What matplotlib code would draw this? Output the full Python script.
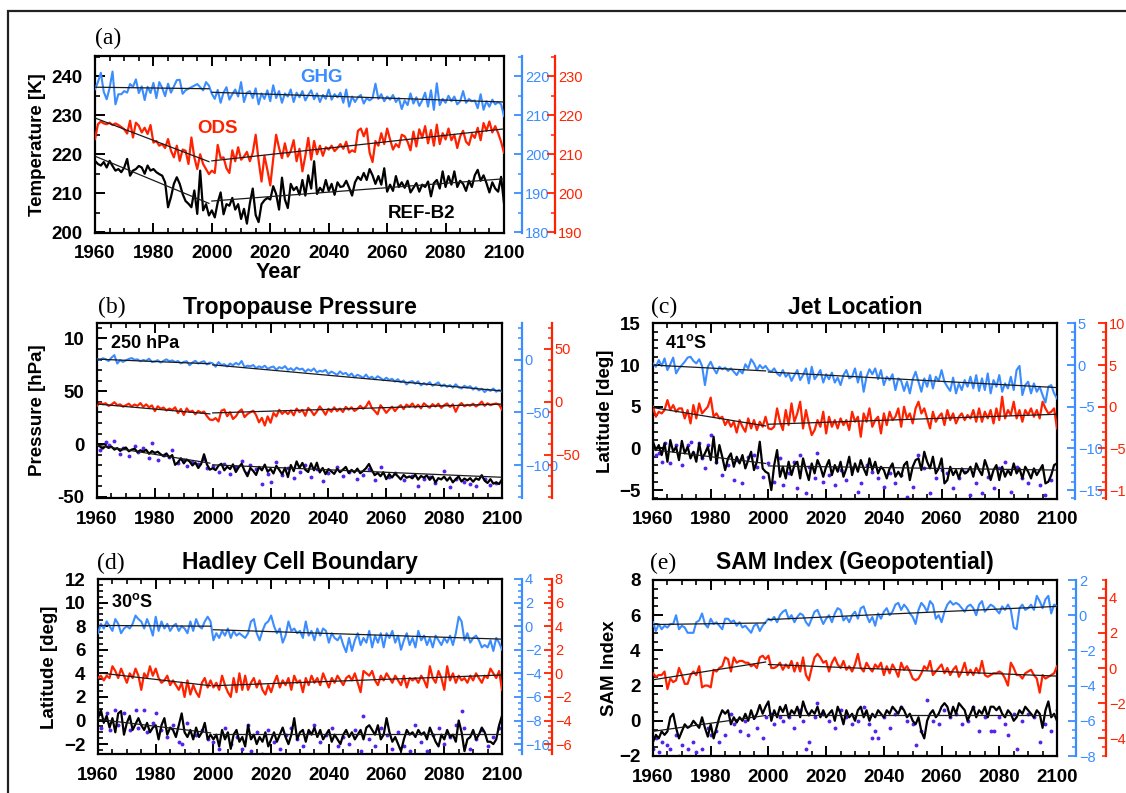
import matplotlib
matplotlib.use("Agg")
import matplotlib.pyplot as plt
from matplotlib.ticker import MultipleLocator, FixedLocator, FixedFormatter
from matplotlib.patches import Rectangle

plt.rcParams["font.family"] = ["Liberation Sans", "DejaVu Sans"]
plt.rcParams["font.weight"] = "bold"
plt.rcParams["mathtext.fontset"] = "custom"
plt.rcParams["mathtext.rm"] = "Liberation Sans:bold"
plt.rcParams["mathtext.it"] = "Liberation Sans:bold"

W, H = 1126, 793
BLUE = "#3a8cff"
RED = "#ff2200"
DOT = "#5522ee"

years = list(range(1960, 2101))

# ---------------- (a) temperature, left-axis units [K]
a_ghg = [236.7, 238.5, 240.9, 236.0, 234.1, 237.0, 241.2, 232.8, 235.4, 235.4,
         236.2, 235.8, 238.0, 237.3, 239.2, 235.7, 237.4, 233.9, 237.3, 235.7,
         238.3, 234.4, 238.5, 237.0, 234.9, 238.1, 235.8, 237.4, 239.0, 239.1,
         235.5, 236.4, 236.8, 237.2, 237.6, 238.0, 237.2, 236.4, 238.5, 237.6,
         235.5, 234.2, 236.5, 233.2, 235.8, 237.2, 234.0, 235.4, 236.6, 234.8,
         238.5, 233.4, 235.8, 236.2, 234.4, 236.9, 232.8, 235.6, 234.2, 236.4,
         233.6, 237.7, 234.4, 236.2, 233.2, 235.6, 234.8, 236.6, 233.4, 235.8,
         234.6, 236.2, 233.8, 235.2, 236.4, 234.1, 235.6, 233.4, 235.2, 234.2,
         236.6, 234.0, 235.4, 234.6, 235.8, 233.2, 236.6, 232.2, 234.8, 233.4,
         234.6, 235.2, 233.0, 234.4, 233.8, 234.4, 238.1, 234.2, 235.4, 233.6,
         234.8, 234.0, 235.2, 233.4, 234.4, 231.6, 233.8, 232.6, 235.6, 233.0,
         234.6, 232.4, 233.8, 235.8, 232.2, 236.4, 231.4, 238.2, 232.6, 234.2,
         233.2, 235.0, 233.6, 234.8, 232.8, 233.6, 236.2, 233.2, 234.2, 233.6,
         233.8, 231.8, 235.4, 231.4, 233.6, 232.2, 234.0, 232.8, 233.4, 232.8,
         229.8]
a_ods = [223.9, 227.7, 228.4, 227.9, 227.7, 228.1, 227.5, 227.9, 227.5, 227.0,
         226.4, 225.3, 228.6, 224.3, 228.1, 227.3, 225.6, 226.8, 225.2, 227.5,
         223.0, 223.4, 222.2, 222.6, 221.6, 223.9, 220.9, 219.2, 222.2, 218.3,
         221.2, 220.9, 217.5, 224.3, 219.2, 216.2, 220.0, 217.5, 216.2, 214.9,
         215.8, 215.2, 222.4, 219.0, 219.2, 216.4, 215.2, 221.0, 218.2, 221.8,
         218.6, 219.4, 220.6, 218.2, 220.4, 225.0, 218.4, 213.0, 219.6, 216.0,
         212.0, 218.8, 225.0, 221.6, 219.0, 222.8, 219.4, 220.8, 223.6, 218.2,
         221.4, 215.6, 219.6, 224.2, 218.6, 223.4, 220.0, 222.2, 219.6, 221.8,
         221.2, 222.2, 220.8, 221.6, 222.6, 221.4, 223.2, 220.4, 221.0, 220.6,
         226.0, 226.6, 224.6, 226.6, 220.4, 218.0, 223.4, 222.2, 225.4, 222.6,
         226.6, 223.8, 221.2, 222.6, 221.8, 225.0, 224.6, 223.2, 221.0, 225.8,
         222.0, 226.4, 224.2, 227.2, 222.8, 226.2, 222.2, 227.6, 222.6, 225.4,
         223.8, 226.6, 223.6, 225.0, 221.6, 224.6, 226.0, 223.2, 222.4, 225.2,
         224.2, 226.8, 223.6, 228.0, 226.0, 228.4, 225.6, 227.2, 225.4, 223.2,
         220.4]
a_ref = [218.3, 217.5, 217.1, 218.0, 216.6, 218.3, 217.0, 215.8, 216.2, 215.4,
         216.6, 218.8, 214.5, 215.8, 216.2, 217.0, 216.6, 215.0, 217.1, 215.8,
         216.2, 215.4, 214.9, 214.5, 212.8, 206.4, 209.0, 212.4, 214.1, 212.4,
         209.8, 208.0, 207.3, 206.4, 210.7, 204.7, 215.8, 205.6, 207.2, 204.3,
         205.6, 203.8, 207.6, 210.2, 204.6, 207.2, 206.8, 208.8, 205.8, 207.2,
         203.4, 206.0, 202.2, 207.4, 211.2, 204.4, 202.6, 207.2, 208.2, 208.8,
         208.4, 211.8, 209.8, 205.8, 214.0, 208.4, 206.2, 212.4, 210.8, 211.6,
         209.6, 213.4, 209.4, 214.6, 211.2, 218.2, 209.8, 211.4, 210.4, 213.4,
         210.6, 212.4, 209.6, 212.8, 211.6, 211.8, 213.2, 211.4, 209.4, 212.8,
         214.2, 213.4, 215.2, 213.4, 216.2, 214.6, 212.4, 214.4, 212.2, 216.4,
         210.4, 212.2, 210.6, 214.4, 211.6, 212.8, 211.4, 213.2, 210.2, 211.4,
         212.6, 210.4, 212.2, 211.6, 213.0, 209.2, 212.6, 213.4, 211.2, 215.6,
         211.6, 214.4, 212.2, 215.6, 211.6, 213.2, 212.4, 210.6, 213.2, 211.6,
         214.6, 216.0, 213.2, 214.6, 212.6, 210.2, 212.8, 211.2, 210.4, 214.2,
         207.4]
# trend segments: [1960, 1999] then [2000, 2100]
a_ghg_trend = [237.2, 236.8, 235.9, 233.4]
a_ods_trend = [229.3, 218.1, 218.3, 226.5]
a_ref_trend = [219.5, 207.4, 208.0, 213.7]

# ---------------- (b) tropopause pressure [hPa]
b_ghg = [80.5, 79.8, 81.2, 80.4, 78.6, 81.8, 84.2, 76.2, 79.5, 77.8,
         79.2, 80.6, 81.4, 79.8, 80.2, 78.4, 79.6, 78.8, 80.8, 77.6,
         78.2, 79.4, 77.2, 78.8, 80.2, 78.4, 79.2, 77.6, 78.6, 76.4,
         77.8, 78.4, 74.6, 77.2, 78.8, 76.2, 77.6, 78.4, 75.4, 77.2,
         76.4, 73.2, 77.6, 74.8, 75.6, 73.4, 76.2, 74.6, 76.8, 75.2,
         78.6, 72.8, 74.2, 73.6, 74.8, 71.8, 73.6, 72.4, 74.2, 71.2,
         72.6, 73.4, 70.4, 72.8, 71.6, 73.8, 70.2, 71.8, 69.6, 72.4,
         70.6, 71.4, 68.4, 70.8, 69.2, 71.6, 67.8, 69.4, 68.6, 70.2,
         66.4, 68.6, 67.2, 65.4, 68.8, 66.2, 67.4, 64.6, 66.8, 63.2,
         65.6, 64.4, 62.6, 65.8, 62.2, 63.8, 61.4, 64.2, 62.6, 60.4,
         62.8, 60.6, 61.8, 59.2, 61.4, 58.6, 60.2, 56.4, 58.8, 59.6,
         57.2, 59.4, 55.6, 57.8, 56.2, 58.6, 55.2, 56.8, 58.4, 54.6,
         56.4, 54.2, 55.8, 53.4, 56.6, 53.8, 52.6, 55.2, 53.6, 54.8,
         51.6, 53.8, 50.8, 52.4, 49.2, 51.8, 50.4, 52.6, 49.6, 51.2,
         49.8]
b_ods = [36.4, 39.2, 37.8, 38.6, 36.2, 37.4, 39.6, 36.8, 37.6, 35.4,
         36.8, 38.2, 35.6, 37.4, 36.2, 38.8, 35.2, 37.6, 34.8, 36.6,
         31.2, 35.8, 33.4, 34.6, 31.8, 33.6, 32.2, 34.8, 29.4, 33.2,
         27.6, 33.8, 30.4, 31.6, 28.2, 31.4, 29.6, 30.8, 26.4, 23.2,
         22.8, 24.6, 21.4, 31.6, 32.8, 26.4, 30.2, 23.8, 26.2, 30.6,
         32.8, 25.6, 28.4, 30.2, 31.6, 27.4, 20.6, 24.8, 17.6, 26.2,
         20.2, 29.4, 26.2, 32.4, 28.6, 31.2, 28.4, 31.8, 27.2, 33.6,
         30.2, 32.4, 26.8, 34.2, 31.6, 27.4, 30.8, 35.6, 32.2, 27.8,
         33.4, 30.6, 34.8, 31.2, 33.6, 30.4, 35.2, 32.6, 34.8, 31.4,
         33.2, 36.2, 33.4, 35.6, 40.4, 34.2, 31.4, 28.2, 36.8, 33.6,
         29.6, 32.8, 35.4, 31.2, 34.6, 36.8, 33.2, 37.4, 35.2, 38.4,
         34.6, 37.2, 33.8, 38.6, 36.2, 34.4, 37.8, 35.6, 38.2, 34.2,
         36.8, 38.4, 35.2, 37.6, 30.6, 36.4, 38.8, 35.8, 37.2, 36.4,
         38.2, 35.6, 37.4, 40.2, 36.2, 38.6, 36.8, 37.8, 38.4, 37.2,
         32.6]
b_ref = [-0.5, -2.2, -4.2, -1.8, -3.6, -2.4, -5.2, -3.8, -6.4, -4.6,
         -3.2, -6.8, -5.2, -4.4, -7.6, -5.8, -7.2, -5.4, -9.2, -6.6,
         -8.4, -7.2, -9.6, -11.4, -8.8, -12.6, -10.4, -19.6, -17.2, -13.4,
         -18.2, -14.6, -16.4, -20.2, -17.4, -22.6, -18.8, -9.6, -19.2, -24.2,
         -22.8, -24.6, -20.4, -18.6, -24.8, -21.4, -23.6, -19.2, -26.4, -21.8,
         -18.6, -25.2, -30.4, -22.6, -25.4, -29.2, -21.6, -24.8, -19.4, -26.2,
         -23.4, -27.8, -20.6, -24.4, -28.6, -22.4, -31.2, -19.8, -25.6, -16.4,
         -22.6, -17.8, -24.2, -26.4, -18.2, -24.8, -17.6, -26.8, -22.6, -28.4,
         -23.6, -25.8, -28.2, -23.4, -26.6, -24.2, -21.6, -27.2, -24.4, -26.8,
         -23.2, -27.6, -25.4, -22.8, -18.8, -24.6, -29.4, -27.2, -30.4, -26.6,
         -33.2, -28.4, -31.6, -27.8, -30.4, -33.4, -29.2, -31.8, -30.6, -32.4,
         -28.8, -33.6, -30.2, -31.8, -29.6, -33.8, -30.6, -36.4, -32.2, -33.4,
         -30.8, -34.6, -31.4, -36.2, -33.2, -30.6, -35.4, -32.6, -34.4, -32.2,
         -35.6, -32.4, -33.8, -29.4, -34.6, -36.8, -33.2, -37.4, -36.2, -37.8,
         -33.4]
b_dots = {1961: -6, 1963: 2, 1964: -1, 1966: 3, 1968: -9, 1969: -4, 1971: -11, 1973: -2,
          1974: -7, 1976: -4, 1978: -13, 1979: 1, 1981: -15, 1983: -10, 1985: -12, 1986: -6,
          1988: -18, 1990: -15, 1991: -21, 1993: -17, 1995: -19, 1997: -14, 1998: -23,
          2000: -21, 2002: -26, 2004: -19, 2006: -28, 2008: -22, 2010: -16, 2012: -27,
          2013: -20, 2015: -24, 2017: -38, 2019: -28, 2020: -36, 2022: -17, 2024: -29,
          2026: -23, 2028: -32, 2030: -26, 2032: -20, 2034: -31, 2036: -24, 2038: -35,
          2040: -27, 2043: -22, 2045: -30, 2047: -26, 2050: -33, 2052: -29, 2054: -24,
          2056: -34, 2058: -22, 2061: -31, 2063: -27, 2066: -34, 2069: -30, 2071: -40,
          2073: -33, 2075: -31, 2077: -37, 2080: -25, 2082: -41, 2084: -33, 2087: -36,
          2089: -38, 2091: -40, 2094: -33, 2096: -39, 2098: -37}
b_ghg_trend = [80.4, 76.0, 75.0, 50.3]
b_ods_trend = [37.9, 28.6, 29.5, 37.9]
b_ref_trend = [-1.0, -18.0, -19.6, -31.4]

# ---------------- (c) jet location [deg]
c_ghg = [10.2, 9.8, 10.6, 9.9, 10.8, 9.4, 10.1, 10.9, 9.0, 9.6,
         10.0, 10.4, 10.9, 11.0, 10.5, 10.2, 10.7, 9.9, 7.6, 9.8,
         10.4, 9.6, 9.0, 9.8, 9.5, 9.7, 9.3, 9.6, 9.2, 8.8,
         9.4, 9.0, 10.1, 9.6, 10.7, 10.2, 9.4, 10.0, 9.6, 9.9,
         9.4, 9.2, 9.6, 9.0, 8.7, 9.4, 8.6, 9.0, 8.1, 8.8,
         9.4, 8.2, 8.8, 9.6, 7.8, 9.8, 8.3, 8.8, 9.4, 7.9,
         8.9, 8.3, 9.1, 7.9, 8.5, 7.6, 8.8, 9.4, 8.4, 8.6,
         9.6, 7.9, 9.2, 6.8, 8.6, 9.5, 8.9, 9.6, 8.3, 9.4,
         7.6, 8.6, 8.2, 8.9, 7.0, 8.4, 8.1, 6.9, 8.0, 6.6,
         8.3, 9.2, 8.0, 6.8, 8.4, 7.4, 8.8, 7.2, 8.6, 8.1,
         9.4, 8.0, 7.4, 6.9, 8.5, 6.6, 7.8, 7.0, 8.2, 7.4,
         8.6, 7.2, 8.8, 6.9, 8.4, 7.0, 9.0, 6.6, 8.2, 7.4,
         8.8, 6.8, 7.8, 7.2, 8.6, 7.0, 9.4, 9.9, 6.4, 7.6,
         8.0, 6.6, 7.8, 6.8, 7.4, 6.4, 5.5, 7.4, 7.6, 6.6,
         6.0]
c_ods = [5.0, 3.8, 4.4, 4.2, 4.6, 5.8, 4.6, 5.2, 4.4, 4.8,
         4.8, 3.6, 4.6, 3.0, 5.2, 3.6, 5.4, 4.2, 4.6, 5.0,
         6.1, 3.8, 4.2, 3.6, 3.8, 2.8, 3.4, 2.6, 3.2, 1.9,
         3.4, 2.6, 2.0, 3.6, 2.4, 3.4, 2.2, 3.2, 2.6, 3.8,
         2.4, 2.3, 2.6, 4.8, 3.2, 2.2, 4.6, 2.8, 5.4, 3.2,
         4.2, 5.6, 2.4, 4.6, 3.0, 1.6, 2.2, 3.4, 2.6, 4.4,
         1.8, 3.8, 2.6, 3.4, 2.4, 3.6, 2.8, 3.4, 2.2, 4.4,
         3.2, 3.8, 1.4, 4.2, 3.2, 4.8, 2.6, 3.4, 3.8, 1.8,
         4.2, 2.8, 4.4, 3.4, 3.8, 4.8, 2.6, 5.0, 3.6, 4.2,
         3.0, 4.8, 5.6, 4.2, 4.8, 3.6, 2.4, 4.4, 3.2, 3.8,
         4.2, 2.8, 4.6, 3.4, 4.2, 3.0, 3.8, 4.2, 3.4, 4.0,
         3.6, 4.6, 3.2, 4.8, 3.2, 4.4, 3.6, 4.6, 3.0, 4.8,
         3.4, 6.2, 3.6, 4.6, 4.0, 5.6, 3.6, 4.6, 3.2, 4.6,
         4.0, 4.8, 3.8, 4.6, 3.6, 5.6, 4.8, 4.2, 4.4, 4.8,
         2.4]
c_ref = [0.8, -0.2, 0.4, -0.8, 0.6, -1.6, 1.0, -0.4, 0.2, -1.4,
         0.9, -0.6, 0.2, -1.2, -0.4, -1.6, 0.6, -1.2, -0.6, 0.2,
         -1.4, 1.4, -1.8, 0.4, -1.0, -2.6, -1.2, -0.6, -2.2, -1.0,
         -1.8, -0.8, -2.4, -1.4, -0.4, -2.6, -1.6, 0.8, -2.4, -2.8,
         -3.0, -5.0, -2.0, -0.2, -3.4, -2.2, -3.6, -1.6, -3.2, -2.0,
         -1.6, -3.6, -1.2, -2.6, -3.8, -1.8, -3.0, -1.4, -2.2, -3.4,
         -2.2, -1.4, -3.2, -2.0, -2.8, -1.6, -3.4, -2.4, -1.0, -3.2,
         -1.8, -2.8, -1.4, -2.4, -3.2, -1.2, -2.6, -1.6, -3.0, -2.2,
         -2.6, -3.6, -2.4, -1.8, -3.4, -2.8, -3.4, -2.0, -1.6, -3.8,
         -2.2, -1.4, -1.2, -2.6, -0.4, -1.6, -2.4, -1.0, -3.0, -2.4,
         -1.2, -4.2, -3.8, -2.2, -3.2, -2.6, -3.6, -2.4, -3.0, -2.8,
         -2.2, -3.4, -1.8, -2.6, -3.2, -1.4, -2.4, -3.8, -2.6, -2.0,
         -3.8, -2.2, -3.4, -2.6, -3.2, -1.8, -3.0, -2.4, -3.6, -2.2,
         -2.8, -3.6, -2.4, -3.2, -2.6, -2.0, -4.2, -4.0, -3.2, -2.0,
         -1.8]
c_dots = {1961: -0.8, 1962: -0.6, 1963: -1.6, 1964: 0.6, 1966: -1.8, 1968: 0.4, 1970: -2.0,
          1972: 0.4, 1973: 0.8, 1974: -0.6, 1976: 0.6, 1977: -1.2, 1978: -2.4, 1979: 0.4,
          1980: 1.6, 1982: -1.6, 1984: -3.2, 1986: -2.0, 1988: -3.8, 1989: -1.4, 1991: -4.2,
          1993: -1.0, 1995: -0.8, 1996: -2.2, 1998: -3.4, 2000: -1.8, 2002: -4.0, 2004: -1.2,
          2005: -4.4, 2007: -3.0, 2009: -1.6, 2010: -4.8, 2011: -0.8, 2013: -5.4, 2014: -2.2,
          2016: -3.6, 2017: -0.6, 2019: -4.0, 2021: -3.2, 2023: -4.4, 2025: -2.6, 2027: -3.8,
          2029: -2.4, 2031: -5.2, 2032: -4.2, 2034: -2.0, 2036: -2.8, 2038: -3.6, 2040: -4.6,
          2042: -3.0, 2044: -4.2, 2046: -3.2, 2048: -5.8, 2050: -4.6, 2052: -0.8, 2054: -2.4,
          2056: -5.4, 2058: -3.6, 2060: -2.6, 2062: -3.0, 2064: -4.8, 2066: -3.6, 2068: -2.8,
          2070: -5.6, 2072: -4.2, 2074: -5.4, 2076: -3.4, 2078: -4.8, 2080: -2.4, 2082: -1.6,
          2084: -5.2, 2086: -2.2, 2088: -3.6, 2090: -4.2, 2092: -2.6, 2094: -4.4, 2096: -5.6,
          2098: -3.8}
c_ghg_trend = [10.0, 9.3, 9.17, 7.3]
c_ods_trend = [4.9, 2.7, 2.9, 4.1]
c_ref_trend = [-0.15, -1.8, -2.1, -2.6]

# ---------------- (d) Hadley cell boundary [deg]
d_ghg = [7.4, 8.2, 7.8, 8.4, 8.0, 7.6, 8.6, 8.2, 7.4, 7.8,
         8.0, 7.8, 8.2, 8.9, 8.6, 8.4, 7.8, 8.6, 8.0, 7.2,
         8.8, 7.6, 8.4, 7.8, 8.2, 7.6, 8.0, 8.2, 7.6, 8.0,
         7.8, 7.4, 8.4, 7.6, 8.6, 8.0, 7.8, 8.4, 8.8, 8.4,
         6.8, 7.4, 7.0, 7.6, 7.2, 7.8, 7.0, 7.6, 7.2, 7.4,
         7.2, 7.0, 7.4, 8.4, 8.6, 7.4, 6.8, 7.6, 8.2, 8.4,
         8.9, 8.0, 7.4, 7.8, 6.6, 7.2, 8.4, 7.6, 7.8, 7.4,
         7.6, 7.0, 8.4, 7.2, 7.6, 6.8, 7.8, 7.2, 7.8, 7.6,
         6.6, 7.4, 7.0, 6.8, 7.2, 6.4, 5.8, 7.0, 5.9, 6.8,
         7.4, 6.4, 7.0, 6.6, 7.6, 6.2, 7.2, 6.6, 7.4, 6.2,
         7.4, 7.0, 7.6, 6.6, 7.2, 6.0, 6.8, 7.4, 6.4, 7.0,
         6.2, 7.6, 6.8, 7.2, 6.4, 7.0, 6.2, 7.2, 6.8, 6.4,
         7.0, 6.6, 7.2, 6.4, 7.4, 8.8, 8.4, 6.8, 7.4, 6.6,
         7.0, 7.2, 6.8, 6.2, 6.4, 6.2, 6.8, 5.9, 7.0, 6.6,
         6.0]
d_ods = [3.6, 3.8, 3.4, 3.8, 3.6, 4.6, 4.2, 3.6, 4.4, 3.8,
         3.2, 4.0, 3.6, 4.4, 3.8, 2.6, 4.0, 3.6, 4.6, 3.8,
         4.4, 3.6, 3.2, 3.4, 3.8, 3.0, 3.4, 3.0, 2.6, 3.2,
         2.0, 3.4, 2.2, 3.0, 2.4, 2.0, 3.2, 3.6, 2.8, 3.4,
         2.8, 3.2, 2.6, 3.8, 3.0, 2.4, 2.0, 3.6, 2.4, 4.0,
         2.6, 3.8, 2.6, 3.2, 3.6, 2.8, 3.4, 2.6, 2.2, 3.0,
         2.4, 3.2, 3.8, 2.8, 3.4, 3.0, 3.6, 2.6, 3.8, 3.2,
         3.4, 2.4, 3.6, 3.0, 3.8, 3.2, 3.6, 3.0, 4.0, 3.4,
         2.8, 3.6, 3.2, 3.8, 3.4, 3.0, 3.6, 3.8, 3.4, 4.0,
         3.2, 2.4, 4.2, 4.0, 3.8, 4.2, 3.4, 3.0, 3.8, 3.4,
         4.0, 3.6, 3.2, 3.8, 3.4, 3.0, 3.8, 2.8, 3.6, 3.4,
         3.6, 3.2, 3.8, 3.4, 2.8, 4.6, 3.6, 3.2, 4.2, 3.6,
         2.6, 4.6, 3.4, 4.0, 3.2, 3.8, 3.4, 3.6, 3.2, 3.8,
         3.4, 4.0, 3.6, 3.2, 3.8, 3.6, 4.4, 4.0, 3.6, 4.2,
         2.6]
d_ref = [0.2, 0.9, -0.2, 0.4, -0.6, 0.2, -1.0, 0.6, 0.8, -1.2,
         -0.2, 0.4, -0.8, -0.3, 0.2, -0.4, -0.8, -0.2, -1.0, -0.6,
         -0.4, -1.6, -0.4, 0.2, -1.2, -0.6, -0.8, -1.4, -0.4, 0.6,
         -1.0, -1.4, -0.8, -1.6, -0.6, -1.4, -1.0, -0.2, -1.6, -1.2,
         -1.6, -1.2, -2.2, -0.8, -1.6, -1.0, -2.4, -1.2, -0.8, -1.8,
         -1.4, -2.2, -0.4, -1.6, -1.2, -2.0, -1.4, -1.8, -1.0, -2.2,
         -1.6, -1.0, -1.8, -1.2, -0.6, -1.4, -2.0, -1.2, 0.2, -1.6,
         -1.0, -0.8, -1.8, -0.8, -1.2, -0.6, -1.4, -0.8, -1.6, -1.2,
         -0.8, -1.8, -1.2, -1.6, -2.0, -1.2, -0.8, -1.4, -1.0, -1.6,
         -1.2, -0.8, -1.6, -0.6, -0.4, -0.8, -1.2, -0.4, -1.6, -1.2,
         0.2, -1.0, -1.8, -1.4, -2.0, -2.6, -1.6, -0.8, -1.2, -1.0,
         -1.4, -0.8, -1.2, -1.0, -1.6, -0.6, -1.2, -1.8, -2.2, -1.2,
         -1.6, -0.8, -1.4, -1.2, -1.8, 0.0, -1.0, -2.6, -1.6, -1.4,
         -0.8, -1.6, -1.2, -0.6, -1.0, -1.8, -1.8, -2.0, -1.6, -0.4,
         0.4]
d_dots = {1961: -0.6, 1963: 0.6, 1964: -0.8, 1966: 0.9, 1967: -0.4, 1969: 0.6, 1971: -0.8,
          1973: 0.9, 1974: -0.6, 1976: 0.9, 1977: -1.0, 1979: -0.2, 1980: 0.6, 1982: -0.8,
          1984: -1.4, 1986: -0.4, 1988: -1.8, 1989: -2.0, 1991: -0.2, 1992: -2.8, 1994: -1.2,
          1996: -0.8, 1998: -1.6, 2000: -1.8, 2002: -2.4, 2004: -0.6, 2006: -2.0, 2008: -1.4,
          2010: -2.4, 2012: -0.4, 2013: -2.6, 2015: -1.0, 2017: -2.8, 2019: -0.8, 2021: -1.8,
          2023: -2.4, 2025: -1.2, 2027: -0.6, 2029: -1.6, 2031: -2.2, 2033: -1.0, 2035: -0.4,
          2037: -1.8, 2039: -1.2, 2041: -0.6, 2043: -2.2, 2045: -1.4, 2047: -2.0, 2049: -0.8,
          2051: -2.6, 2052: 0.4, 2054: -1.6, 2056: -2.2, 2058: -0.6, 2060: -1.2, 2062: -2.4,
          2064: -1.0, 2066: -2.2, 2068: -2.6, 2070: -0.4, 2072: -1.8, 2074: -2.6, 2076: -1.2,
          2078: -0.6, 2080: -2.0, 2082: -1.4, 2084: -0.4, 2086: 0.8, 2087: -0.6, 2089: -2.4,
          2091: -1.6, 2093: -0.8, 2095: -2.2, 2097: -1.4, 2099: -0.6}
d_ghg_trend = [8.06, 8.0, 7.7, 6.9]
d_ods_trend = [4.05, 2.95, 2.95, 3.86]
d_ref_trend = [0.1, -1.05, -1.13, -1.13]

# ---------------- (e) SAM index
e_ghg = [5.6, 5.1, 5.5, 5.2, 5.4, 5.3, 5.5, 5.5, 6.0, 5.2,
         5.4, 5.3, 5.0, 5.0, 5.0, 5.6, 5.7, 6.1, 5.5, 5.3,
         5.8, 5.5, 5.6, 5.4, 5.2, 5.8, 5.8, 5.6, 5.7, 5.4,
         5.6, 5.3, 5.4, 5.2, 5.0, 5.4, 5.5, 5.1, 5.4, 5.6,
         5.8, 5.7, 5.9, 5.6, 6.0, 6.2, 6.3, 5.8, 6.0, 5.6,
         5.9, 6.1, 6.0, 5.6, 5.4, 5.8, 6.2, 6.3, 5.9, 5.5,
         5.8, 6.0, 5.6, 6.1, 6.4, 6.3, 5.7, 5.9, 5.6, 6.0,
         6.2, 5.8, 6.4, 6.5, 6.0, 5.6, 5.9, 5.4, 6.1, 5.8,
         6.2, 6.4, 6.0, 6.2, 6.6, 6.7, 6.3, 6.6, 6.4, 6.1,
         5.9, 5.5, 6.3, 6.7, 6.5, 6.2, 6.8, 6.6, 5.8, 6.0,
         5.6, 6.2, 6.6, 6.8, 6.6, 6.7, 6.6, 6.4, 6.2, 6.5,
         6.6, 6.4, 6.0, 6.6, 6.8, 6.2, 6.4, 6.6, 6.5, 6.3,
         6.1, 6.5, 6.3, 6.6, 6.3, 5.3, 5.2, 6.4, 6.6, 6.3,
         6.4, 6.6, 6.3, 7.1, 6.8, 6.4, 6.9, 7.1, 6.1, 6.6,
         6.5]
e_ods = [2.7, 2.5, 2.6, 2.6, 2.8, 1.8, 2.4, 2.2, 2.3, 3.0,
         2.6, 2.1, 2.1, 2.6, 2.8, 2.6, 3.1, 1.9, 2.0, 2.0,
         1.9, 2.9, 2.8, 3.0, 3.1, 3.6, 3.5, 2.8, 3.6, 3.3,
         3.4, 3.4, 3.3, 3.3, 3.1, 3.2, 3.0, 3.6, 3.7, 3.5,
         3.7, 3.0, 3.0, 3.1, 3.3, 2.9, 3.2, 3.0, 3.4, 2.8,
         3.3, 2.8, 3.6, 2.6, 2.3, 3.0, 3.6, 3.8, 3.6, 3.3,
         3.4, 2.8, 3.3, 3.6, 3.2, 3.0, 3.4, 2.9, 3.1, 2.8,
         3.2, 3.8, 3.0, 2.8, 3.3, 3.0, 2.8, 3.2, 3.0, 3.3,
         2.6, 3.1, 2.7, 3.2, 2.9, 2.5, 3.3, 2.9, 3.1, 2.8,
         2.4, 2.3, 2.4, 2.7, 3.1, 2.9, 3.4, 2.6, 2.8, 3.0,
         3.2, 2.7, 3.0, 2.6, 2.9, 3.1, 2.5, 2.8, 3.3, 2.6,
         2.9, 2.6, 3.0, 2.7, 3.4, 2.6, 2.5, 2.6, 2.7, 2.7,
         2.8, 2.7, 2.4, 2.0, 3.3, 3.0, 2.6, 2.6, 2.4, 2.7,
         2.8, 2.9, 2.6, 2.4, 1.6, 2.6, 2.4, 2.5, 2.6, 2.7,
         3.1]
e_ref = [-1.2, -0.8, -1.0, -0.6, -0.8, -0.6, 0.2, 0.4, -0.4, -1.0,
         -0.6, -0.2, -0.4, -0.3, 0.0, -0.2, -0.4, 0.2, -0.4, -0.9,
         -0.2, -1.0, -0.4, 0.2, 0.6, 0.4, 0.6, -0.2, 0.2, -0.1,
         0.2, 0.0, 0.4, 0.0, 0.6, 0.1, 0.4, 0.9, 0.4, 0.8,
         1.1, 0.0, 0.6, 0.2, 0.8, 0.5, 0.9, 0.2, 0.6, 0.4,
         0.8, 0.2, 1.1, 0.6, 0.3, 0.6, 0.4, 0.8, 0.2, 0.6,
         0.2, 0.4, 0.6, 0.0, 0.8, 0.4, -0.2, 0.6, 0.2, 0.4,
         0.0, 0.6, 0.8, 0.2, 0.6, 0.0, 0.4, 0.2, 0.6, 0.4,
         0.2, 0.6, 0.4, 0.8, 0.6, 0.4, 0.8, 0.6, 0.2, 0.4,
         0.0, -0.2, 0.2, -0.6, -1.0, 0.0, 0.4, 0.6, 0.2, 0.4,
         0.8, 1.0, 0.8, 0.2, 0.8, 0.4, 1.0, 0.8, 0.6, 0.0,
         0.4, 0.8, 0.2, 0.6, 0.4, 0.8, 0.2, 0.8, 0.8, 0.6,
         0.8, 0.4, 0.2, 0.6, 0.4, 0.0, 0.2, 0.6, 0.4, 0.8,
         0.6, 0.4, 0.2, 0.6, 0.4, -0.4, 0.6, 1.1, 0.2, 0.4,
         0.0]
e_dots = {1960: -1.6, 1961: -1.0, 1962: -1.8, 1963: -1.2, 1965: -1.4, 1966: -1.6, 1968: -0.8,
          1969: -2.0, 1970: -1.4, 1971: -2.2, 1972: -1.6, 1974: -1.2, 1975: -1.8, 1977: -1.6,
          1978: -2.2, 1979: -0.4, 1980: -0.8, 1982: -0.6, 1983: -1.2, 1985: -0.8, 1987: 0.4,
          1988: -0.2, 1990: -0.6, 1992: 0.0, 1993: -0.8, 1995: 0.2, 1996: -0.4, 1998: -1.0,
          1999: 0.2, 2001: 0.4, 2002: -0.2, 2004: 0.2, 2005: 0.0, 2007: 0.2, 2009: -0.4,
          2011: 0.6, 2012: 0.0, 2013: -1.6, 2014: -1.2, 2016: 0.2, 2017: 1.0, 2019: 0.4,
          2021: 0.0, 2023: -0.4, 2025: 0.6, 2027: 0.2, 2029: -0.2, 2031: 0.0, 2033: 0.8,
          2035: -0.2, 2036: -1.0, 2037: -0.6, 2038: -1.0, 2040: 0.2, 2042: -0.4, 2044: 0.4,
          2046: 0.8, 2048: 0.0, 2050: -0.2, 2051: -1.4, 2053: -0.6, 2055: 1.2, 2057: 0.0,
          2059: -0.2, 2061: 0.6, 2063: 0.2, 2065: 0.4, 2067: -0.2, 2069: 0.0, 2071: 0.8,
          2073: -0.6, 2075: 0.2, 2077: -0.6, 2078: -0.6, 2080: 0.2, 2082: -0.2, 2083: -0.8,
          2085: 0.4, 2086: -1.6, 2088: 0.0, 2090: 0.4, 2092: 0.2, 2094: -1.2, 2096: -0.2,
          2098: -0.6, 2100: 0.6}
e_ghg_trend = [5.47, 5.56, 5.75, 6.5]
e_ods_trend = [2.33, 3.34, 3.2, 2.54]
e_ref_trend = [-0.6, 0.3, 0.34, 0.34]


fig = plt.figure(figsize=(W / 100, H / 100), dpi=100)

# outer frame (runs off the right and bottom edges)
fig.add_artist(Rectangle((8 / W, -0.1), 2.0, 1 - 11 / H + 0.1, transform=fig.transFigure,
                         fill=False, lw=1.6, edgecolor="#222222"))


def px_axes(left, right, top, bottom):
    return fig.add_axes([left / W, 1 - bottom / H, (right - left) / W, (bottom - top) / H])


def right_scale(ax, color, xpos, ylim, major, minor):
    tw = ax.twinx()
    tw.set_ylim(*ylim)
    for side in ("left", "top", "bottom"):
        tw.spines[side].set_visible(False)
    x0, x1 = ax.get_position().x0, ax.get_position().x1
    tw.spines["right"].set_position(("axes", 1 + (xpos / W - x1) / (x1 - x0)))
    tw.spines["right"].set_color(color)
    tw.spines["right"].set_linewidth(1.6)
    tw.yaxis.set_major_locator(MultipleLocator(major))
    tw.yaxis.set_minor_locator(MultipleLocator(minor))
    tw.tick_params(axis="y", which="both", direction="in", colors=color, labelsize=10.5, pad=2)
    tw.tick_params(axis="y", which="major", length=6, width=1.3)
    tw.tick_params(axis="y", which="minor", length=3, width=1.1)
    for t in tw.get_yticklabels():
        t.set_fontweight("normal")
    return tw


def draw_panel(rect, ylim, ymajor, yminor, ghg, ods, ref, trends, dots=None,
               blue=None, red=None):
    ax = px_axes(*rect)
    ax.plot(years, ghg, color=BLUE, lw=1.5, zorder=3)
    ax.plot(years, ods, color=RED, lw=1.6, zorder=3)
    ax.plot(years, ref, color="black", lw=1.6, zorder=4)
    if dots is not None:
        ax.plot(list(dots.keys()), list(dots.values()), ls="none", marker="o", ms=2.8,
                color=DOT, mec="none", zorder=2)
    for tr in trends:
        ax.plot([1960, 1999], tr[:2], color="#1a1a1a", lw=0.9, zorder=5)
        ax.plot([2000, 2100], tr[2:], color="#1a1a1a", lw=0.9, zorder=5)
    ax.set_xlim(1960, 2100)
    ax.set_ylim(*ylim)
    ax.xaxis.set_major_locator(MultipleLocator(20))
    ax.xaxis.set_minor_locator(MultipleLocator(5))
    ax.yaxis.set_major_locator(MultipleLocator(ymajor))
    ax.yaxis.set_minor_locator(MultipleLocator(yminor))
    ax.tick_params(which="both", direction="in", top=True, right=True, labelsize=13.5)
    ax.tick_params(which="major", length=7, width=1.4)
    ax.tick_params(which="minor", length=3.5, width=1.2)
    ax.tick_params(axis="x", pad=9)
    ax.tick_params(axis="y", pad=9)
    for s in ax.spines.values():
        s.set_linewidth(1.6)
    if blue is not None:
        right_scale(ax, BLUE, *blue)
    if red is not None:
        right_scale(ax, RED, *red)
    return ax


def fig_text(x, y, s, **kw):
    fig.text(x / W, 1 - y / H, s, **kw)


# (a)
ax_a = draw_panel((95, 504, 56, 233), (199.8, 245.2), 10, 5, a_ghg, a_ods, a_ref,
                  [a_ghg_trend, a_ods_trend, a_ref_trend],
                  blue=(522, (179.8, 225.2), 10, 5), red=(555, (189.8, 235.2), 10, 5))
ax_a.text(2037.4, 239.8, "GHG", color=BLUE, fontsize=13.5, ha="center", va="center", zorder=6)
ax_a.text(2002.1, 226.7, "ODS", color=RED, fontsize=13.5, ha="center", va="center", zorder=6)
ax_a.text(2071.9, 204.9, "REF-B2", color="black", fontsize=13.5, ha="center", va="center",
          zorder=6)
fig_text(95, 38, "(a)", family="Liberation Serif", weight="normal", fontsize=17, va="center")
fig_text(278, 272, "Year", fontsize=15.5, ha="center", va="center")
fig_text(37, 144.5, "Temperature [K]", fontsize=13.5, rotation=90, ha="center", va="center")

# (b)
ax_b = draw_panel((97, 502, 323, 498), (-51, 114.6), 50, 10, b_ghg, b_ods, b_ref,
                  [b_ghg_trend, b_ods_trend, b_ref_trend], dots=b_dots,
                  blue=(522, (-131, 34.6), 50, 10), red=(552, (-91, 74.6), 50, 10))
ax_b.yaxis.set_major_locator(FixedLocator([-50, 0, 50, 100]))
ax_b.yaxis.set_major_formatter(FixedFormatter(["-50", "0", "50", "10"]))
fig_text(98, 307, "(b)", family="Liberation Serif", weight="normal", fontsize=17, va="center")
fig_text(300, 307, "Tropopause Pressure", fontsize=16.5, ha="center", va="center")
fig_text(38, 410, "Pressure [hPa]", fontsize=13.5, rotation=90, ha="center", va="center")
fig_text(111, 343, "250 hPa", fontsize=13, va="center")

# (c) -- its red scale runs off the right edge, as in the original
ax_c = draw_panel((653, 1057, 323, 499), (-6.07, 15.05), 5, 1, c_ghg, c_ods, c_ref,
                  [c_ghg_trend, c_ods_trend, c_ref_trend], dots=c_dots,
                  blue=(1075, (-16.07, 5.05), 5, 1), red=(1106, (-11.07, 10.05), 5, 1))
fig_text(651, 307, "(c)", family="Liberation Serif", weight="normal", fontsize=17, va="center")
fig_text(855, 307, "Jet Location", fontsize=16.5, ha="center", va="center")
fig_text(606, 411, "Latitude [deg]", fontsize=13.5, rotation=90, ha="center", va="center")
fig_text(665, 343, "41$^{\\rm o}$S", fontsize=13, va="center")

# (d)
ax_d = draw_panel((98, 502, 579, 754), (-2.84, 12), 2, 0.5, d_ghg, d_ods, d_ref,
                  [d_ghg_trend, d_ods_trend, d_ref_trend], dots=d_dots,
                  blue=(522, (-10.84, 4), 2, 0.5), red=(552, (-6.84, 8), 2, 0.5))
fig_text(97, 563, "(d)", family="Liberation Serif", weight="normal", fontsize=17, va="center")
fig_text(300, 563, "Hadley Cell Boundary", fontsize=16.5, ha="center", va="center")
fig_text(49, 667, "Latitude [deg]", fontsize=13.5, rotation=90, ha="center", va="center")
fig_text(111, 602, "30$^{\\rm o}$S", fontsize=13, va="center")

# (e)
ax_e = draw_panel((653, 1057, 580, 756), (-2, 8), 2, 0.5, e_ghg, e_ods, e_ref,
                  [e_ghg_trend, e_ods_trend, e_ref_trend], dots=e_dots,
                  blue=(1076, (-8, 2), 2, 0.5), red=(1106, (-5, 5), 2, 0.5))
fig_text(650, 563, "(e)", family="Liberation Serif", weight="normal", fontsize=17, va="center")
fig_text(855, 563, "SAM Index (Geopotential)", fontsize=16.5, ha="center", va="center")
fig_text(609, 668, "SAM Index", fontsize=13.5, rotation=90, ha="center", va="center")

fig.savefig("out.png", dpi=100)
